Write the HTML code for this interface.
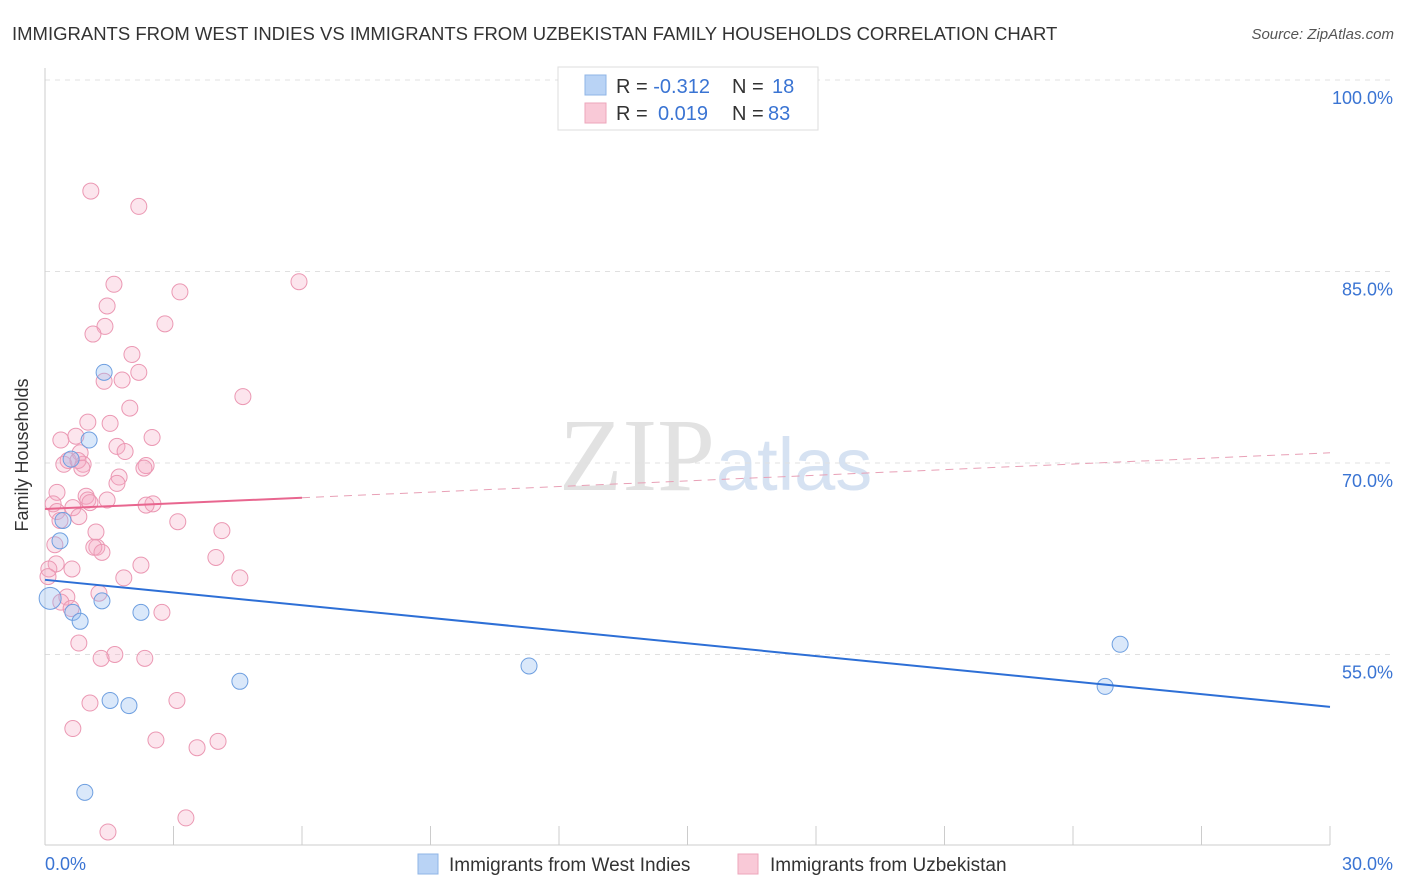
<!DOCTYPE html>
<html><head><meta charset="utf-8"><style>
body{margin:0;background:#fff;font-family:"Liberation Sans",sans-serif;}
#wrap{position:relative;width:1406px;height:892px;overflow:hidden;}
</style></head><body>
<div id="wrap">
<svg id="svg" width="1406" height="892">
<text x="12" y="40" font-size="18.5" fill="#333">IMMIGRANTS FROM WEST INDIES VS IMMIGRANTS FROM UZBEKISTAN FAMILY HOUSEHOLDS CORRELATION CHART</text>
<text x="1394" y="39" font-size="15" fill="#555" font-style="italic" text-anchor="end">Source: ZipAtlas.com</text>
<text x="715" y="490" font-size="104" fill="#e2e2e2" font-family="Liberation Serif" text-anchor="end">ZIP</text>
<text x="716" y="490" font-size="74" fill="#d6e2f2">atlas</text>
<text x="28" y="455" font-size="18" fill="#333" transform="rotate(-90 28 455)" text-anchor="middle">Family Households</text>
<g id="grid"></g><g id="pts"></g><g id="lines"></g>
<rect x="558" y="67" width="260" height="63" fill="#fff" stroke="#ddd"/>
<rect x="585" y="75" width="21" height="20" fill="#b9d3f5" stroke="#8fb4e6"/>
<rect x="585" y="103" width="21" height="20" fill="#f9c9d7" stroke="#eda6bb"/>
<text x="616" y="93" font-size="20" fill="#333">R = <tspan fill="#3a74d3">-0.312</tspan><tspan x="732">N = </tspan><tspan x="772" fill="#3a74d3">18</tspan></text>
<text x="616" y="120" font-size="20" fill="#333">R = <tspan x="658" fill="#3a74d3">0.019</tspan><tspan x="732">N = </tspan><tspan x="768" fill="#3a74d3">83</tspan></text>
<text x="45" y="870" font-size="18" fill="#3a74d3">0.0%</text>
<text x="1393" y="870" font-size="18" fill="#3a74d3" text-anchor="end">30.0%</text>
<rect x="418" y="854" width="20" height="20" fill="#b9d3f5" stroke="#8fb4e6"/>
<text x="449" y="871" font-size="19" fill="#333">Immigrants from West Indies</text>
<rect x="738" y="854" width="20" height="20" fill="#f9c9d7" stroke="#eda6bb"/>
<text x="770" y="871" font-size="19" fill="#333">Immigrants from Uzbekistan</text>
</svg></div>
<script>
const yTicks=[100,85,70,55];
const yTickLabels=["100.0%","85.0%","70.0%","55.0%"];
const xTicks=[0,3,6,9,12,15,18,21,24,27,30];
const blueX=[0.12,0.35,0.42,0.61,1.03,1.38,1.33,0.65,0.82,2.24,1.52,1.96,4.55,11.3,25.1,24.75,0.93];
const blueY=[59.4,63.9,65.5,70.3,71.8,77.1,59.2,58.3,57.6,58.3,51.4,51.0,52.9,54.1,55.8,52.5,44.2];
const pinkX=[1.07,2.19,5.93,1.61,3.15,1.45,2.80,1.40,1.12,2.03,2.19,1.80,1.38,4.62,1.98,1.00,1.52,0.37,2.50,0.72,1.68,1.87,0.82,0.44,0.54,0.89,0.77,2.36,2.31,0.86,1.73,1.68,0.28,0.96,1.00,1.45,0.19,0.65,2.52,2.36,1.05,0.28,0.79,3.10,0.35,1.19,4.13,0.23,1.21,1.14,1.33,3.99,2.24,0.26,0.09,0.63,0.07,1.84,4.55,1.26,0.51,0.37,0.61,2.73,0.79,1.63,1.31,2.33,1.05,3.08,0.65,2.59,3.55,4.04,3.29,1.47];
const pinkY=[91.3,90.1,84.2,84.0,83.4,82.3,80.9,80.7,80.1,78.5,77.1,76.5,76.4,75.2,74.3,73.2,73.1,71.8,72.0,72.1,71.3,70.9,70.8,69.9,70.2,69.9,70.2,69.8,69.6,69.6,68.9,68.4,67.7,67.4,67.1,67.1,66.8,66.5,66.8,66.7,66.9,66.2,65.8,65.4,65.5,64.6,64.7,63.6,63.4,63.4,63.0,62.6,62.0,62.1,61.7,61.7,61.1,61.0,61.0,59.8,59.5,59.1,58.6,58.3,55.9,55.0,54.7,54.7,51.2,51.4,49.2,48.3,47.7,48.2,42.2,41.1];
const blueLine=[60.85,50.9];
const pinkLine=[66.4,70.8];
const pinkSolidEnd=6;
const NS="http://www.w3.org/2000/svg";
const X=v=>45+v*(1285/30);
const Y=v=>80+(100-v)*(191.5/15);
function mk(t,a,p){const e=document.createElementNS(NS,t);for(const k in a)e.setAttribute(k,a[k]);p.appendChild(e);return e;}
const grid=document.getElementById('grid'),pts=document.getElementById('pts'),lines=document.getElementById('lines');
yTicks.forEach((t,i)=>{
 const l=mk('line',{x1:45,x2:1393,y1:Y(t),y2:Y(t),stroke:'#e0e0e0','stroke-dasharray':'5,5'},grid);
 
 
 const tx=mk('text',{x:1393,y:Y(t)+24,'font-size':18,fill:'#3a74d3','text-anchor':'end'},grid);
 tx.textContent=yTickLabels[i];
 
 
});
const ax=mk('line',{x1:45,x2:45,y1:68,y2:845,stroke:'#ccc'},grid);


const bx=mk('line',{x1:45,x2:1330,y1:845,y2:845,stroke:'#ccc'},grid);


xTicks.forEach(t=>{
 const l=mk('line',{x1:X(t),x2:X(t),y1:826,y2:845,stroke:'#ccc'},grid);
 
 
});
pinkX.forEach((x,i)=>{
 const c=mk('circle',{cx:X(x),cy:Y(pinkY[i]),r:8,fill:'rgba(246,170,195,0.3)',stroke:'#eb98b3','stroke-width':1},pts);
 
 
});
blueX.forEach((x,i)=>{
 const c=mk('circle',{cx:X(x),cy:Y(blueY[i]),r:i==0?11:8,fill:'rgba(150,190,240,0.35)',stroke:'#6e9fe0','stroke-width':1},pts);
 
 
});
const pAt=x=>pinkLine[0]+(pinkLine[1]-pinkLine[0])*x/30;
const bl=mk('line',{x1:X(0),y1:Y(blueLine[0]),x2:X(30),y2:Y(blueLine[1]),stroke:'#2d6fd6','stroke-width':2},lines);


const ps=mk('line',{x1:X(0),y1:Y(pAt(0)),x2:X(pinkSolidEnd),y2:Y(pAt(pinkSolidEnd)),stroke:'#e8668f','stroke-width':2},lines);


const pd=mk('line',{x1:X(pinkSolidEnd),y1:Y(pAt(pinkSolidEnd)),x2:X(30),y2:Y(pAt(30)),stroke:'#e8a0b6','stroke-width':1,'stroke-dasharray':'8,6'},lines);


</script>
</body></html>
